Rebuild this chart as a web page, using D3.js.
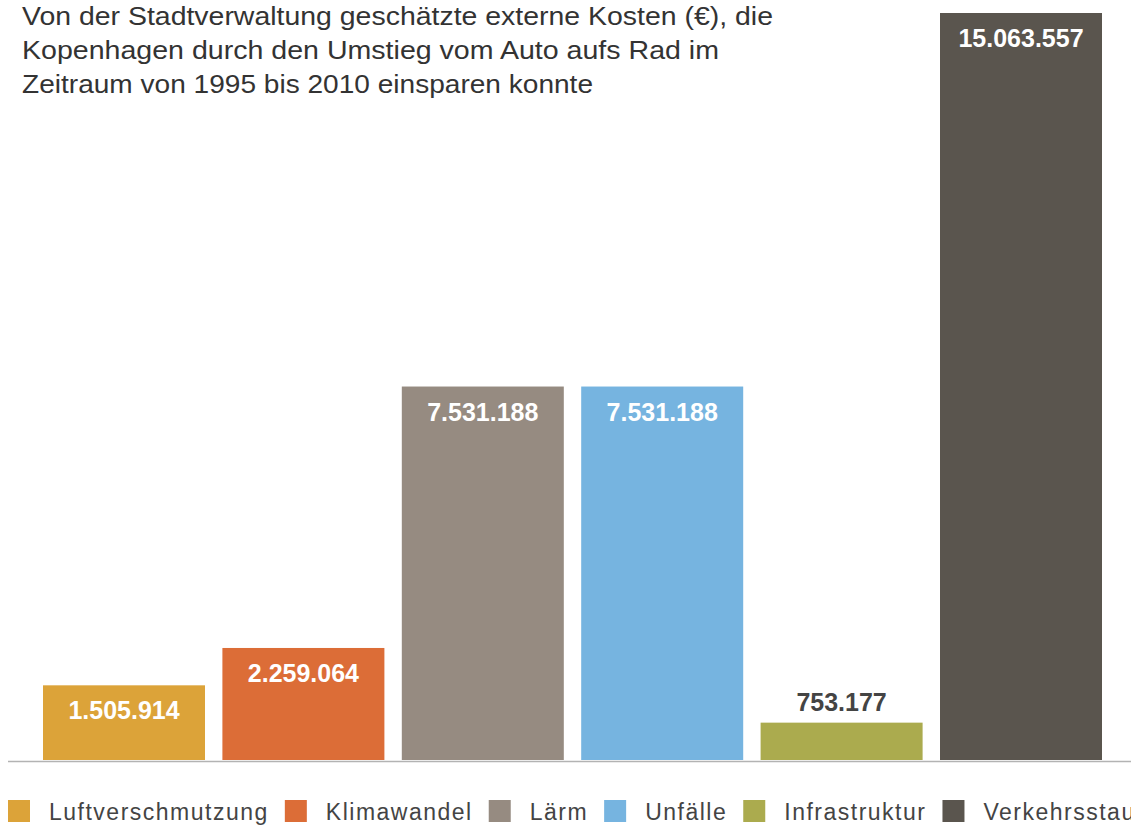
<!DOCTYPE html>
<html>
<head>
<meta charset="utf-8">
<script src="https://cdnjs.cloudflare.com/ajax/libs/d3/7.8.5/d3.min.js"></script>
<style>
  html, body { margin: 0; padding: 0; background: #fff; }
  svg { display: block; font-family: "Liberation Sans", Arial, sans-serif; }
</style>
</head>
<body>
<div id="chart"></div>
<script>
(function () {
    'use strict';

    // data
    var categories = ['Luftverschmutzung', 'Klimawandel', 'Lärm', 'Unfälle', 'Infrastruktur', 'Verkehrsstau'];
    var values = [1505914, 2259064, 7531188, 7531188, 753177, 15063557];
    var colors = ['#dca339', '#dc6d37', '#968b81', '#76b4e0', '#abab4e', '#5a554e'];
    var titleLines = [
        'Von der Stadtverwaltung geschätzte externe Kosten (€), die',
        'Kopenhagen durch den Umstieg vom Auto aufs Rad im',
        'Zeitraum von 1995 bis 2010 einsparen konnte'
    ];
    var titleWidths = [751, 697, 571];

    var width = 1131, height = 826;
    var base = 760;

    var svg = d3.select('#chart').append('svg')
        .attr('width', width)
        .attr('height', height);

    var x = d3.scaleBand()
        .domain(categories)
        .range([43, 1102])
        .paddingInner(0.097)
        .paddingOuter(0);

    var y = d3.scaleLinear()
        .domain([0, d3.max(values)])
        .range([base, 13]);

    var fmt = d3.formatLocale({decimal: ',', thousands: '.', grouping: [3], currency: ['', '€']}).format(',d');

    var data = categories.map(function (c, i) { return {cat: c, val: values[i], col: colors[i]}; });

    // bars
    svg.append('g').selectAll('rect')
        .data(data)
      .enter().append('rect')
        .attr('x', d => x(d.cat))
        .attr('y', d => y(d.val))
        .attr('width', x.bandwidth())
        .attr('height', d => base - y(d.val))
        .attr('fill', d => d.col);

    // value labels: inside if the bar is tall enough, else above
    svg.append('g').selectAll('text')
        .data(data)
      .enter().append('text')
        .attr('x', d => x(d.cat) + x.bandwidth() / 2)
        .attr('y', function (d) {
            var h = base - y(d.val);
            return h > 50 ? y(d.val) + 34 : y(d.val) - 12;
        })
        .attr('text-anchor', 'middle')
        .attr('font-size', 25)
        .attr('font-weight', 'bold')
        .attr('fill', d => (base - y(d.val)) > 50 ? '#fff' : '#444')
        .text(d => fmt(d.val));

    // baseline
    svg.append('line')
        .attr('x1', 8).attr('x2', width)
        .attr('y1', base + 1.5).attr('y2', base + 1.5)
        .attr('stroke', '#b3b3b3')
        .attr('stroke-width', 1.5);

    // title
    svg.append('g').selectAll('text')
        .data(titleLines)
      .enter().append('text')
        .attr('x', 22)
        .attr('y', (d, i) => 25 + i * 33.8)
        .attr('font-size', 26)
        .attr('fill', '#333')
        .attr('textLength', (d, i) => titleWidths[i])
        .attr('lengthAdjust', 'spacingAndGlyphs')
        .text(d => d);

    // legend
    var legend = svg.append('g');
    var lx = 8;
    data.forEach(function (d) {
        legend.append('rect')
            .attr('x', lx).attr('y', 800)
            .attr('width', 22).attr('height', 22)
            .attr('fill', d.col);
        var t = legend.append('text')
            .attr('x', lx + 41)
            .attr('y', 820)
            .attr('font-size', 23)
            .attr('letter-spacing', 1.5)
            .attr('fill', '#444')
            .text(d.cat);
        lx += 41 + t.node().getComputedTextLength() + 16;
    });
}());
</script>
</body>
</html>
